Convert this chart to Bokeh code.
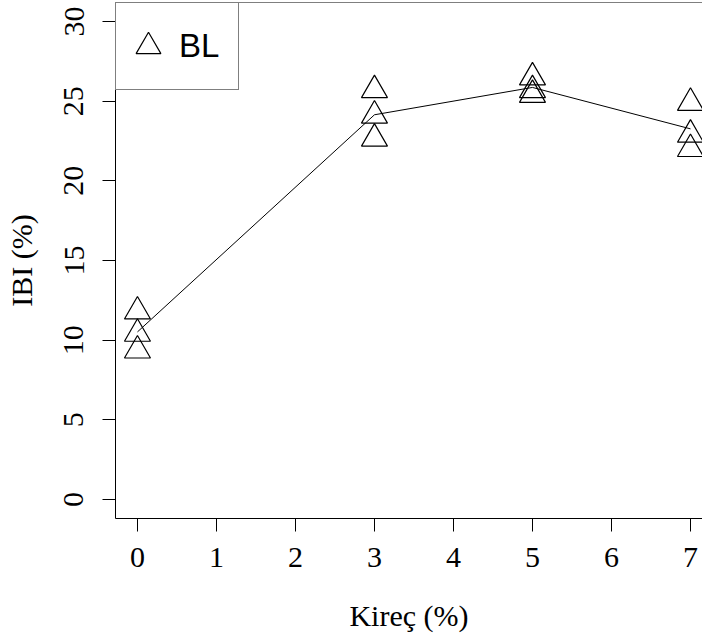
import numpy as np
from bokeh.plotting import figure
from bokeh.models import Range1d, FixedTicker, Span, Legend, LegendItem
from bokeh.embed import file_html
from bokeh.resources import INLINE

# ---- data ----
kirec = [0, 0, 0, 3, 3, 3, 5, 5, 5, 7, 7, 7]
ibi = [11.8, 10.4, 9.35, 25.7, 24.1, 22.65, 26.5, 25.7, 25.4, 24.9, 22.9, 22.0]
x_ticks = [0, 1, 2, 3, 4, 5, 6, 7]
y_ticks = [0, 5, 10, 15, 20, 25, 30]
x_title = "Kireç (%)"
y_title = "IBI (%)"
series_label = "BL"

levels = sorted(set(kirec))
means = [float(np.mean([v for k, v in zip(kirec, ibi) if k == lv])) for lv in levels]

p = figure(width=702, height=634, output_backend="svg", toolbar_location=None,
           x_range=Range1d(-0.278, 7.152), y_range=Range1d(-1.2, 31.2),
           min_border_left=115, min_border_right=0, min_border_top=2,
           min_border_bottom=114)
p.xgrid.visible = False
p.ygrid.visible = False
p.outline_line_color = None
p.background_fill_color = "white"
p.border_fill_color = "white"

serif = "Liberation Serif"
for ax in (p.xaxis[0], p.yaxis[0]):
    ax.major_tick_out = 13
    ax.major_tick_in = 0
    ax.minor_tick_out = 0
    ax.minor_tick_in = 0
    ax.major_tick_line_color = "black"
    ax.major_tick_line_width = 1
    ax.axis_line_color = "black"
    ax.axis_line_width = 1
    ax.major_label_text_font = serif
    ax.major_label_text_font_size = "30px"
    ax.major_label_text_color = "black"
    ax.axis_label_text_font = serif
    ax.axis_label_text_font_size = "30px"
    ax.axis_label_text_font_style = "normal"
    ax.axis_label_text_color = "black"

p.xaxis[0].ticker = FixedTicker(ticks=x_ticks)
p.yaxis[0].ticker = FixedTicker(ticks=y_ticks)
p.xaxis[0].axis_label = x_title
p.yaxis[0].axis_label = y_title
p.xaxis[0].major_label_standoff = 16
p.xaxis[0].axis_label_standoff = 29
p.yaxis[0].major_label_orientation = "vertical"
p.yaxis[0].major_label_standoff = 19
p.yaxis[0].axis_label_standoff = 24

top_line = Span(location=p.y_range.end, dimension="width", line_color="black", line_width=1)
p.add_layout(top_line)

p.line(levels, means, line_color="black", line_width=1)
sc = p.scatter(kirec, ibi, marker="triangle", size=26, fill_color=None,
               line_color="black", line_width=1.2)

legend = Legend(items=[LegendItem(label=series_label, renderers=[sc])],
                location="top_left", glyph_width=62, glyph_height=84, padding=1,
                label_standoff=0, label_width=58, margin=0, spacing=0,
                border_line_color="black", border_line_width=1,
                background_fill_color="white", background_fill_alpha=1,
                label_text_font="Liberation Sans", label_text_font_size="33px",
                label_text_color="black")
p.add_layout(legend)

open("out.html", "w").write(file_html(p, INLINE))
